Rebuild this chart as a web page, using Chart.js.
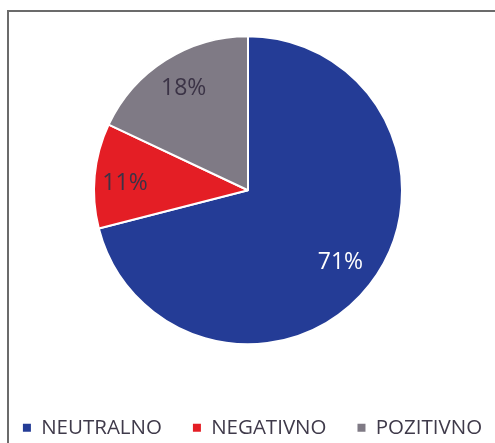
<!DOCTYPE html>
<html><head><meta charset="utf-8">
<script src="https://cdn.jsdelivr.net/npm/chart.js@4/dist/chart.umd.min.js"></script>
<style>
html,body{margin:0;padding:0;background:#fff;overflow:hidden;}
#wrap{position:relative;width:495px;height:443px;overflow:hidden;}
#frame{position:absolute;left:7px;top:10px;width:500px;height:440px;border-top:2px solid #6b6b6b;border-left:2px solid #6b6b6b;pointer-events:none;}
canvas{position:absolute;left:-32px;top:-6px;}
</style></head>
<body>
<div id="wrap"><canvas id="c" width="560" height="454"></canvas><div id="frame"></div></div>
<script>
const categories = ["NEUTRALNO", "NEGATIVNO", "POZITIVNO"];
const values = [71, 11, 18];
const labelsText = ["71%", "11%", "18%"];
const colors = ["#243C96", "#E41E25", "#7F7A85"];
const labelColors = ["#FFFFFF", "#3B3346", "#3B3346"];

const sliceLabels = {
  id: 'sliceLabels',
  afterDatasetsDraw(chart) {
    const ctx = chart.ctx;
    const meta = chart.getDatasetMeta(0);
    const fr = [0.76, 0.80, 0.78];
    const nudge = [0, -0.038, 0];
    ctx.save();
    ctx.font = '23px "Open Sans"';
    ctx.textAlign = 'center';
    ctx.textBaseline = 'middle';
    meta.data.forEach((arc, i) => {
      const mid = (arc.startAngle + arc.endAngle) / 2 + nudge[i];
      const r = arc.outerRadius * fr[i];
      ctx.fillStyle = labelColors[i];
      ctx.fillText(labelsText[i], arc.x + Math.cos(mid) * r, arc.y + Math.sin(mid) * r);
    });
    ctx.restore();
  }
};

const legendShift = {
  id: 'legendShift',
  afterLayout(chart) {
    if (chart.legend) { chart.legend.left += 4.5; chart.legend.right += 4.5; }
  }
};

const baseGen = Chart.overrides.pie.plugins.legend.labels.generateLabels;
new Chart(document.getElementById('c'), {
  type: 'pie',
  data: {
    labels: categories,
    datasets: [{ data: values, backgroundColor: colors, borderColor: '#ffffff', borderWidth: 2 }]
  },
  options: {
    responsive: false,
    animation: false,
    radius: 154,
    layout: { padding: 0 },
    plugins: {
      tooltip: { enabled: false },
      legend: {
        position: 'bottom',
        labels: {
          font: { family: '"Open Sans"', size: 20.5 },
          color: '#3F3A4A',
          boxWidth: 8, boxHeight: 8,
          padding: 31,
          generateLabels(chart) {
            return baseGen(chart).map(l => Object.assign(l, { lineWidth: 0, strokeStyle: l.fillStyle }));
          }
        }
      }
    }
  },
  plugins: [sliceLabels, legendShift]
});
</script>
</body></html>
